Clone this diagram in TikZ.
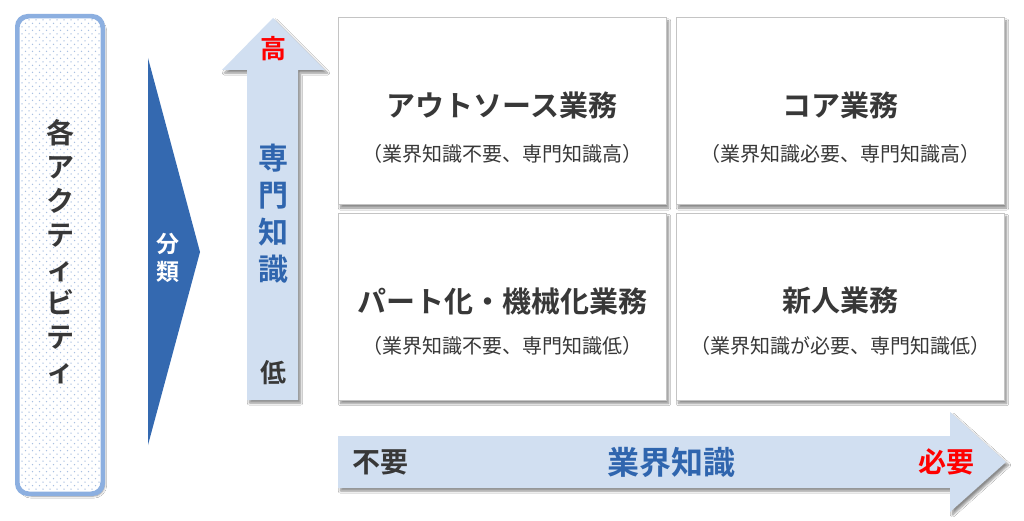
\documentclass[tikz,border=0pt]{standalone}
\usepackage{fontspec}
\setmainfont{Noto Sans CJK JP}[BoldFont={Noto Sans CJK JP Bold}]
\usetikzlibrary{shadows.blur}
\definecolor{boxblue}{HTML}{8CAFE0}
\definecolor{dotblue}{HTML}{A9C0E2}
\definecolor{chev}{HTML}{3469B0}
\definecolor{arrowfill}{HTML}{D1DFF1}
\definecolor{txtblue}{HTML}{2F65AE}
\definecolor{txtdark}{HTML}{383838}
\definecolor{txtred}{HTML}{FF0000}
\definecolor{quadline}{HTML}{C4C4C4}
\tikzset{
  shad/.style={blur shadow={shadow xshift=2.5pt, shadow yshift=-3pt, shadow blur steps=6, shadow opacity=45}},
  quad/.style={draw=quadline, line width=1pt, fill=white, minimum width=328pt, minimum height=187pt, inner sep=0pt, shad},
  title/.style={font=\fontsize{29}{32}\selectfont\bfseries, text=txtdark, inner sep=0pt},
  sub/.style={font=\fontsize{20}{22}\selectfont, text=txtdark, inner sep=0pt},
  lbl/.style={inner sep=0pt, align=center},
}
\begin{document}
\begin{tikzpicture}[x=1pt,y=-1pt]
\useasboundingbox (0,0) rectangle (1024,521);
\fill[white] (0,0) rectangle (1024,521);

% left box
\node[draw=boxblue, line width=3pt, rounded corners=11pt, fill=white, minimum width=84pt, minimum height=476pt, inner sep=0pt, shad] (act) at (60,255) {};
\begin{scope}
  \clip[rounded corners=10pt] (19.5,18.5) rectangle (100.5,491.5);
  \foreach \yy in {20,27,...,492} {
    \foreach \xx in {22,29,...,102} {
      \fill[dotblue] (\xx,\yy) circle (0.75);
      \fill[dotblue] (\xx+3.5,\yy+3.5) circle (0.75);
    }
  }
\end{scope}
\draw[boxblue, line width=3pt, rounded corners=11pt] (act.north west) rectangle (act.south east);
\node[lbl, font=\fontsize{28}{34}\selectfont\bfseries, text=txtdark] (acttxt) at (60,252) {各\\ア\\ク\\テ\\ィ\\ビ\\テ\\ィ};

% chevron
\fill[chev] (148,58) -- (200,252) -- (148,445) -- cycle;
\node[lbl, font=\fontsize{23}{28}\selectfont\bfseries, text=white] (bunrui) at (168,258) {分\\類};

% vertical arrow
\fill[arrowfill, shad] (247,400) -- (247,70) -- (222,70) -- (273,18) -- (325,70) -- (298,70) -- (298,400) -- cycle;
\node[lbl, font=\fontsize{26}{30}\selectfont\bfseries, text=txtred] (hi) at (273,49) {高};
\node[lbl, font=\fontsize{30}{37}\selectfont\bfseries, text=txtblue] (senmon) at (273,214) {専\\門\\知\\識};
\node[lbl, font=\fontsize{26}{30}\selectfont\bfseries, text=txtdark] (lo) at (273,373) {低};

% horizontal arrow
\fill[arrowfill, shad] (338,436) -- (950,436) -- (950,412) -- (1006,462) -- (950,512) -- (950,488) -- (338,488) -- cycle;
\node[lbl, font=\fontsize{28}{32}\selectfont\bfseries, text=txtdark] (fuyou) at (380,462) {不要};
\node[lbl, font=\fontsize{32}{36}\selectfont\bfseries, text=txtblue] (gyokai) at (671,462) {業界知識};
\node[lbl, font=\fontsize{28}{32}\selectfont\bfseries, text=txtred] (hitsuyou) at (946,462) {必要};

% quadrants
\node[quad] (q1) at (502,111.5) {};
\node[quad] (q2) at (840,111.5) {};
\node[quad] (q3) at (502,307) {};
\node[quad] (q4) at (840,307) {};

\node[title] (t1) at (502,105) {アウトソース業務};
\node[sub] (s1) at (502,154) {（業界知識不要、専門知識高）};
\node[title] (t2) at (840,105) {コア業務};
\node[sub] (s2) at (840,154) {（業界知識必要、専門知識高）};
\node[title] (t3) at (502,301) {パート化・機械化業務};
\node[sub] (s3) at (502,346) {（業界知識不要、専門知識低）};
\node[title] (t4) at (840,301) {新人業務};
\node[sub] (s4) at (840,346) {（業界知識が必要、専門知識低）};
\end{tikzpicture}
\end{document}
